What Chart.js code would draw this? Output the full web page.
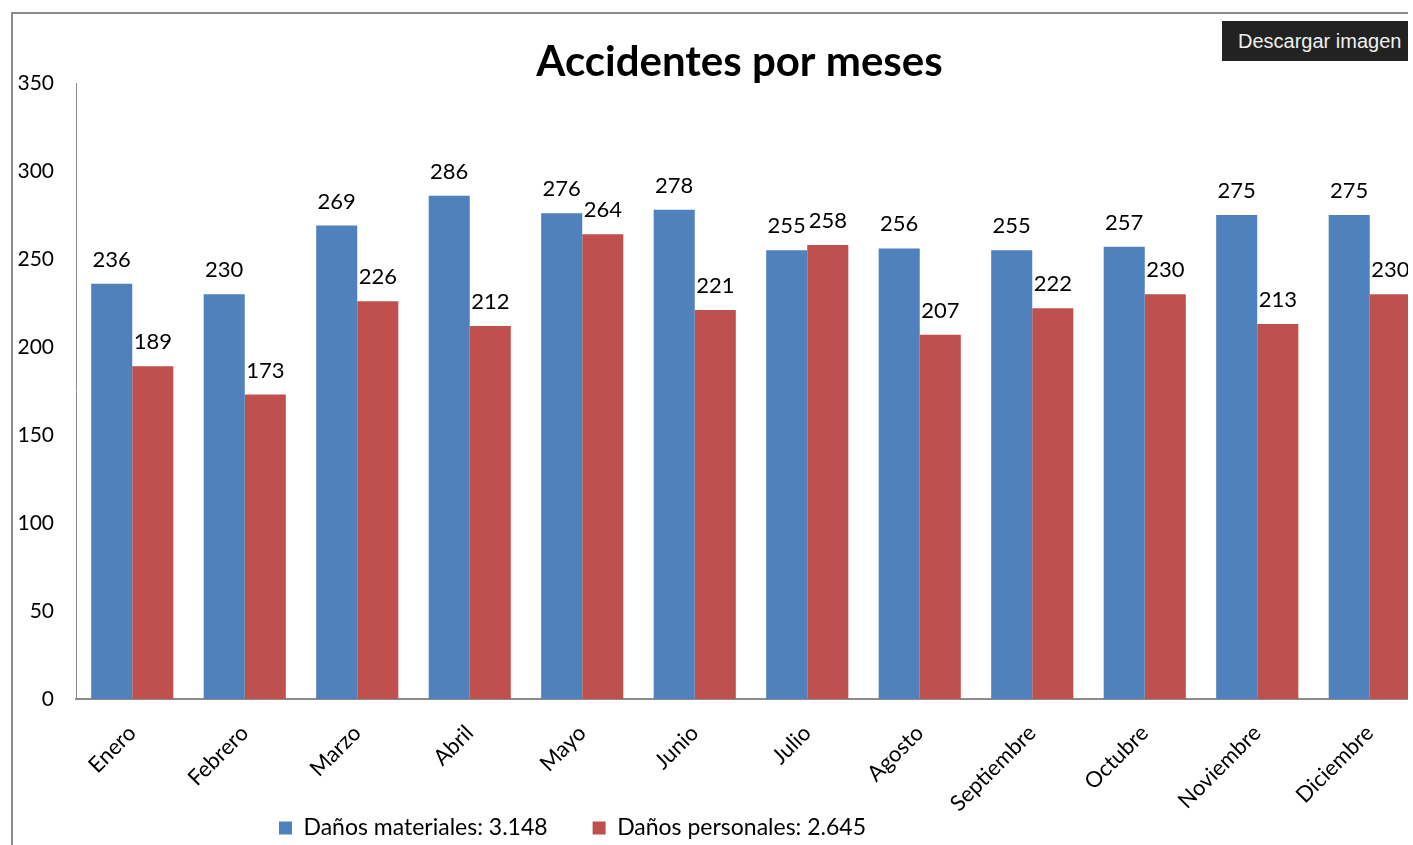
<!DOCTYPE html>
<html>
<head>
<meta charset="utf-8">
<title>Accidentes por meses</title>
<script src="https://cdn.jsdelivr.net/npm/chart.js@4/dist/chart.umd.min.js"></script>
<style>
  html, body { margin: 0; padding: 0; background: #fff; overflow: hidden; }
  #frame {
    position: absolute; left: 11px; top: 12px;
    width: 1395px; height: 840px;
    border-left: 2px solid #8c8c8c; border-top: 2px solid #8c8c8c;
    overflow: hidden;
  }
  #wrap { position: absolute; left: 0; top: 0; width: 1454px; height: 879px; }
  #download {
    position: absolute; left: 1222px; top: 21px; width: 186px; height: 40px;
    background: #222; color: #f0f0f0; border: none;
    font: 20px "Liberation Sans", Arial, sans-serif; padding: 0 0 0 16px; text-align: left;
  }
</style>
</head>
<body>
<div id="frame">
  <div id="wrap"><canvas id="chart"></canvas></div>
</div>
<button id="download">Descargar imagen</button>
<script>
// Data
const months = ['Enero', 'Febrero', 'Marzo', 'Abril', 'Mayo', 'Junio', 'Julio', 'Agosto', 'Septiembre', 'Octubre', 'Noviembre', 'Diciembre'];
const materiales = [236, 230, 269, 286, 276, 278, 255, 256, 255, 257, 275, 275];
const personales = [189, 173, 226, 212, 264, 221, 258, 207, 222, 230, 213, 230];
const seriesNames = ['Daños materiales: 3.148', 'Daños personales: 2.645'];
const yTicks = [0, 50, 100, 150, 200, 250, 300, 350];

const font = 'Lato, "Open Sans", sans-serif';

// value labels on top of every bar
const valueLabels = {
    id: 'valueLabels',
    afterDatasetsDraw(chart) {
        const ctx = chart.ctx;
        ctx.save();
        ctx.font = '22px ' + font;
        ctx.fillStyle = '#000';
        ctx.textAlign = 'center';
        ctx.textBaseline = 'alphabetic';
        chart.data.datasets.forEach((ds, i) => {
            chart.getDatasetMeta(i).data.forEach((bar, j) => {
                ctx.fillText(ds.data[j], bar.x, bar.y - 17);
            });
        });
        ctx.restore();
    }
};

// the Excel original puts title and legend off the plot's centre
const boxShift = {
    id: 'boxShift',
    afterLayout(chart) {
        chart.titleBlock.left += 20;
        chart.titleBlock.right += 20;
        chart.legend.left -= 147;
        chart.legend.right -= 147;
        chart.legend.top -= 43.5;
        chart.legend.bottom -= 43.5;
    }
};

const ctx = document.getElementById('chart').getContext('2d');
const chart = new Chart(ctx, {
    type: 'bar',
    data: {
        labels: months,
        datasets: [{
            label: seriesNames[0],
            data: materiales,
            backgroundColor: '#4F81BD',
            borderWidth: 0,
            categoryPercentage: 0.73,
            barPercentage: 1.0
        }, {
            label: seriesNames[1],
            data: personales,
            backgroundColor: '#C0504D',
            borderWidth: 0,
            categoryPercentage: 0.73,
            barPercentage: 1.0
        }]
    },
    options: {
        responsive: true,
        maintainAspectRatio: false,
        animation: false,
        layout: { padding: { top: 0, right: 41, bottom: 0, left: 0 } },
        scales: {
            x: {
                grid: { display: false, drawTicks: false },
                border: { display: true, color: '#8c8c8c', width: 2 },
                ticks: {
                    color: '#000',
                    font: { family: font, size: 22 },
                    minRotation: 45,
                    maxRotation: 45,
                    padding: 21
                },
                afterFit(scale) { scale.height = 116; }
            },
            y: {
                min: 0,
                max: 350,
                afterBuildTicks(scale) { scale.ticks = yTicks.map(v => ({ value: v })); },
                grid: { display: false, drawTicks: false },
                border: { display: true, color: '#8c8c8c', width: 1 },
                ticks: {
                    color: '#000',
                    font: { family: font, size: 21 },
                    padding: 22
                },
                afterFit(scale) { scale.width = 63; }
            }
        },
        plugins: {
            title: {
                display: true,
                text: 'Accidentes por meses',
                color: '#000',
                font: { family: font, size: 42, weight: 'bold', lineHeight: 1 },
                padding: { top: 27, bottom: 0 }
            },
            legend: {
                position: 'bottom',
                labels: {
                    color: '#000',
                    font: { family: font, size: 23 },
                    boxWidth: 13,
                    boxHeight: 13,
                    padding: 45
                }
            },
            tooltip: { enabled: false }
        }
    },
    plugins: [valueLabels, boxShift]
});
</script>
</body>
</html>
